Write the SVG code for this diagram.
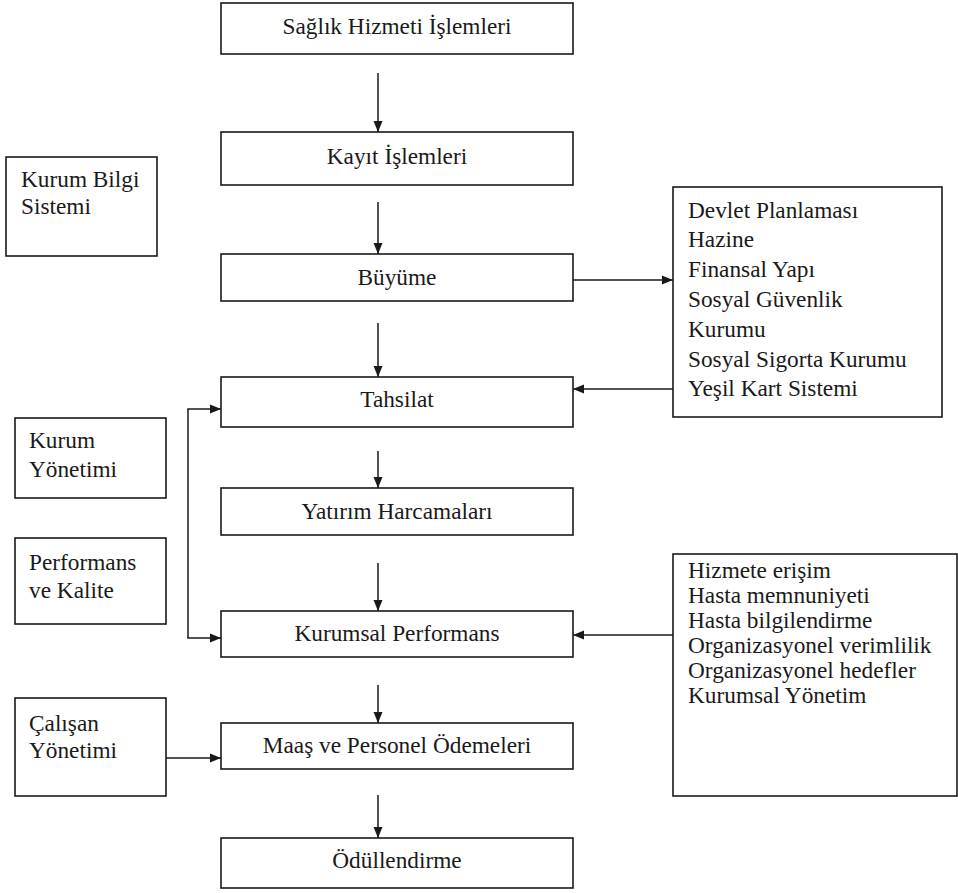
<svg xmlns="http://www.w3.org/2000/svg" width="958" height="893" viewBox="0 0 958 893">
  <style>
    .box { fill: #ffffff; stroke: #1a1a1a; stroke-width: 1.6; }
    .t { font-family: 'Liberation Serif', 'Times New Roman', Tinos, 'DejaVu Serif', serif; font-size: 23.3px; fill: #1a1a1a; }
    .c { text-anchor: middle; }
    .link { fill: none; stroke: #1a1a1a; stroke-width: 1.5; marker-end: url(#arrow); }
    .plain { fill: none; stroke: #1a1a1a; stroke-width: 1.5; }
  </style>
  <defs>
    <marker id="arrow" markerUnits="userSpaceOnUse" markerWidth="11" markerHeight="10" refX="11" refY="5" orient="auto">
      <path d="M0,0.5 L11,5 L0,9.5 Z" fill="#1a1a1a"/>
    </marker>
  </defs>
  <rect width="958" height="893" fill="#ffffff"/>

  <!-- main column -->
  <g id="saglik-hizmeti">
    <rect class="box" x="221" y="3" width="352" height="51"/>
    <text class="t c" x="397" y="34">Sağlık Hizmeti İşlemleri</text>
  </g>
  <g id="kayit">
    <rect class="box" x="221" y="132" width="352" height="53"/>
    <text class="t c" x="397" y="164">Kayıt İşlemleri</text>
  </g>
  <g id="buyume">
    <rect class="box" x="221" y="254" width="352" height="47"/>
    <text class="t c" x="397" y="285">Büyüme</text>
  </g>
  <g id="tahsilat">
    <rect class="box" x="221" y="377" width="352" height="50"/>
    <text class="t c" x="397" y="407">Tahsilat</text>
  </g>
  <g id="yatirim">
    <rect class="box" x="221" y="488" width="352" height="47"/>
    <text class="t c" x="397" y="519">Yatırım Harcamaları</text>
  </g>
  <g id="kurumsal-performans">
    <rect class="box" x="221" y="611" width="352" height="46"/>
    <text class="t c" x="397" y="641">Kurumsal Performans</text>
  </g>
  <g id="maas">
    <rect class="box" x="221" y="723" width="352" height="46"/>
    <text class="t c" x="397" y="753">Maaş ve Personel Ödemeleri</text>
  </g>
  <g id="odullendirme">
    <rect class="box" x="221" y="838" width="352" height="50"/>
    <text class="t c" x="397" y="868">Ödüllendirme</text>
  </g>

  <!-- left side boxes -->
  <g id="kurum-bilgi">
    <rect class="box" x="6" y="157" width="151" height="99"/>
    <text class="t" x="21" y="187">Kurum Bilgi</text>
    <text class="t" x="21" y="214">Sistemi</text>
  </g>
  <g id="kurum-yonetimi">
    <rect class="box" x="15" y="418" width="151" height="80"/>
    <text class="t" x="29" y="448">Kurum</text>
    <text class="t" x="29" y="477">Yönetimi</text>
  </g>
  <g id="performans-kalite">
    <rect class="box" x="15" y="538" width="151" height="86"/>
    <text class="t" x="29" y="570">Performans</text>
    <text class="t" x="29" y="598">ve Kalite</text>
  </g>
  <g id="calisan">
    <rect class="box" x="15" y="698" width="151" height="98"/>
    <text class="t" x="29" y="731">Çalışan</text>
    <text class="t" x="29" y="758">Yönetimi</text>
  </g>

  <!-- right side boxes -->
  <g id="finans-kurumlari">
    <rect class="box" x="673" y="187" width="269" height="230"/>
    <text class="t" x="688" y="218">Devlet Planlaması</text>
    <text class="t" x="688" y="247">Hazine</text>
    <text class="t" x="688" y="277">Finansal Yapı</text>
    <text class="t" x="688" y="307">Sosyal Güvenlik</text>
    <text class="t" x="688" y="337">Kurumu</text>
    <text class="t" x="688" y="367">Sosyal Sigorta Kurumu</text>
    <text class="t" x="688" y="396">Yeşil Kart Sistemi</text>
  </g>
  <g id="performans-kriterleri">
    <rect class="box" x="673" y="554" width="284" height="242"/>
    <text class="t" x="688" y="578">Hizmete erişim</text>
    <text class="t" x="688" y="603">Hasta memnuniyeti</text>
    <text class="t" x="688" y="628">Hasta bilgilendirme</text>
    <text class="t" x="688" y="653">Organizasyonel verimlilik</text>
    <text class="t" x="688" y="678">Organizasyonel hedefler</text>
    <text class="t" x="688" y="703">Kurumsal Yönetim</text>
  </g>

  <!-- connectors -->
  <g id="connectors">
    <line class="link" x1="378" y1="73" x2="378" y2="132"/>
    <line class="link" x1="378" y1="202" x2="378" y2="254"/>
    <line class="link" x1="378" y1="323" x2="378" y2="377"/>
    <line class="link" x1="378" y1="451" x2="378" y2="488"/>
    <line class="link" x1="378" y1="563" x2="378" y2="611"/>
    <line class="link" x1="378" y1="685" x2="378" y2="723"/>
    <line class="link" x1="378" y1="795" x2="378" y2="838"/>

    <line class="link" x1="573" y1="280" x2="673" y2="280"/>
    <line class="link" x1="673" y1="389" x2="573" y2="389"/>
    <line class="link" x1="673" y1="635" x2="573" y2="635"/>

    <line class="plain" x1="188" y1="409" x2="188" y2="638"/>
    <line class="link" x1="187.25" y1="409" x2="221" y2="409"/>
    <line class="link" x1="187.25" y1="638" x2="221" y2="638"/>

    <line class="link" x1="166" y1="758" x2="221" y2="758"/>
  </g>
</svg>
